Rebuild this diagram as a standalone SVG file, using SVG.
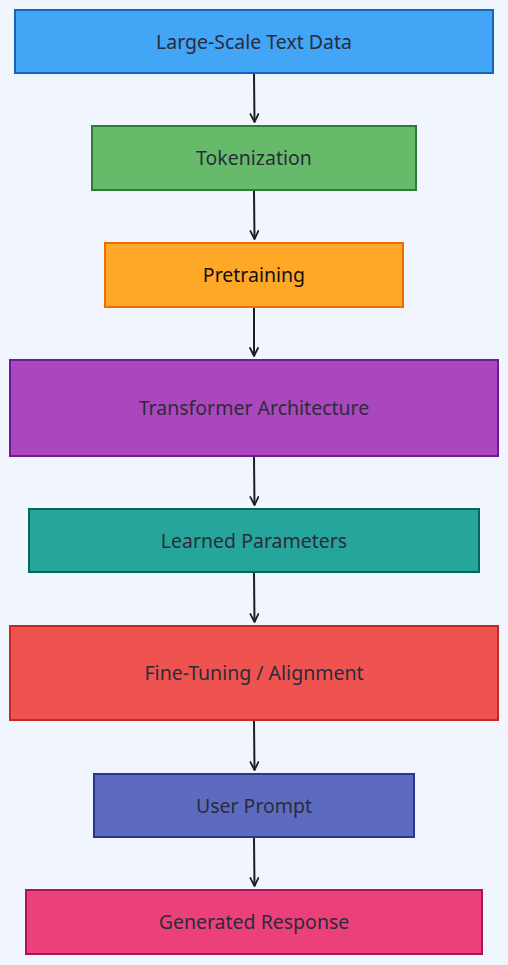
<svg xmlns="http://www.w3.org/2000/svg" width="508" height="965" viewBox="0 0 508 965">
<style>
.box{stroke-width:2}
.lbl{font-family:"Noto Sans","Open Sans","Liberation Sans",sans-serif;font-size:19.5px;fill:#2b2b3b;text-anchor:middle;dominant-baseline:central}
.edge{stroke:#1e1e1e;stroke-width:2;fill:none}
</style>
<defs>
<marker id="ah" viewBox="0 0 10 10" refX="9" refY="5" markerWidth="10" markerHeight="10" markerUnits="userSpaceOnUse" orient="auto">
<path d="M1,1 L9,5 L1,9" fill="none" stroke="#1e1e1e" stroke-width="1.8" stroke-linecap="round" stroke-linejoin="round"/>
</marker>
</defs>
<rect width="508" height="965" fill="#f1f6fe"/>
<g id="connectors">
<path class="edge" d="M254,74 L254.5,122" marker-end="url(#ah)"/>
<path class="edge" d="M254,191 L254.5,239" marker-end="url(#ah)"/>
<path class="edge" d="M254,308 L254,356" marker-end="url(#ah)"/>
<path class="edge" d="M254,457 L254.5,505" marker-end="url(#ah)"/>
<path class="edge" d="M254,573 L254.5,622" marker-end="url(#ah)"/>
<path class="edge" d="M254,721 L254.5,770" marker-end="url(#ah)"/>
<path class="edge" d="M254,838 L254.5,886" marker-end="url(#ah)"/>
</g>
<g id="n1"><rect class="box" x="15" y="10" width="478" height="63" fill="#42a5f5" stroke="#1565c0"/><text class="lbl" x="254" y="41">Large-Scale Text Data</text></g>
<g id="n2"><rect class="box" x="92" y="126" width="324" height="64" fill="#66bb6a" stroke="#2e7d32"/><text class="lbl" x="254" y="157">Tokenization</text></g>
<g id="n3"><rect class="box" x="105" y="243" width="298" height="64" fill="#ffa726" stroke="#ef6c00"/><text class="lbl" x="254" y="274" style="fill:#111">Pretraining</text></g>
<g id="n4"><rect class="box" x="10" y="360" width="488" height="96" fill="#ab47bc" stroke="#6a1b9a"/><text class="lbl" x="254" y="407">Transformer Architecture</text></g>
<g id="n5"><rect class="box" x="29" y="509" width="450" height="63" fill="#26a69a" stroke="#00695c"/><text class="lbl" x="254" y="540">Learned Parameters</text></g>
<g id="n6"><rect class="box" x="10" y="626" width="488" height="94" fill="#ef5350" stroke="#c62828"/><text class="lbl" x="254" y="672">Fine-Tuning / Alignment</text></g>
<g id="n7"><rect class="box" x="94" y="774" width="320" height="63" fill="#5c6bc0" stroke="#283593"/><text class="lbl" x="254" y="805">User Prompt</text></g>
<g id="n8"><rect class="box" x="26" y="890" width="456" height="64" fill="#ec407a" stroke="#ad1457"/><text class="lbl" x="254" y="921">Generated Response</text></g>
</svg>
